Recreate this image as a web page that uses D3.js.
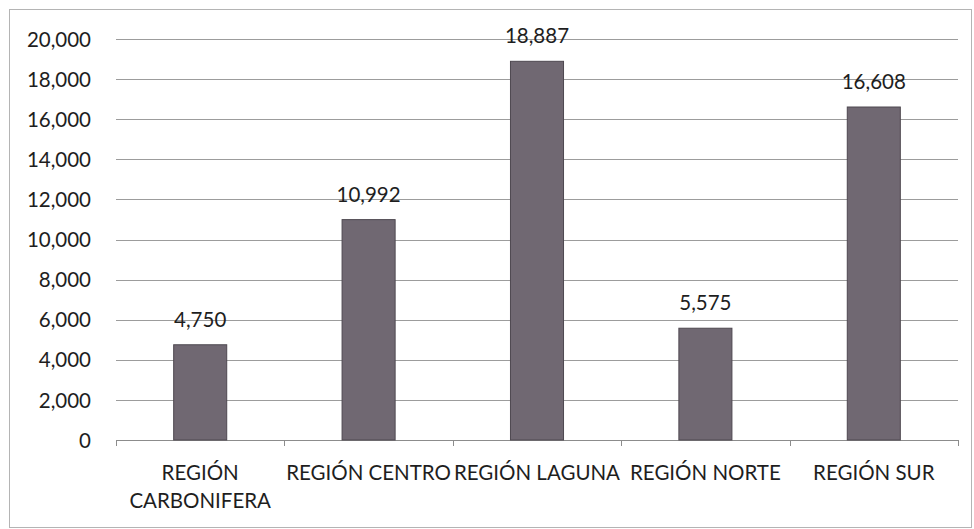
<!DOCTYPE html>
<html>
<head>
<meta charset="utf-8">
<script src="https://cdn.jsdelivr.net/npm/d3@7"></script>
<style>
  body { margin: 0; background: #fff; }
  svg text { font-family: Lato, "Open Sans", sans-serif; fill: #1e1e1e; }
</style>
</head>
<body>
<div id="chart"></div>
<script>
// ─── DATA ───────────────────────────────────────────────────────────────────
const categories = [
  ['REGIÓN', 'CARBONIFERA'],
  ['REGIÓN CENTRO'],
  ['REGIÓN LAGUNA'],
  ['REGIÓN NORTE'],
  ['REGIÓN SUR']
];
const values = [4750, 10992, 18887, 5575, 16608];
const yTicks = [0, 2000, 4000, 6000, 8000, 10000, 12000, 14000, 16000, 18000, 20000];

// ─── CANVAS ─────────────────────────────────────────────────────────────────
const W = 974, H = 529;
const margin = {top: 39, right: 16, bottom: 89, left: 116};
const width = W - margin.left - margin.right;
const height = H - margin.top - margin.bottom;
const fontSize = '20.5px';

const svg = d3.select('#chart').append('svg')
  .attr('width', W)
  .attr('height', H);

// outer frame
svg.append('rect')
  .attr('x', 9.5).attr('y', 9.5)
  .attr('width', 962).attr('height', 518)
  .attr('fill', 'none')
  .attr('stroke', '#b4b4b4')
  .attr('stroke-width', 1);

const g = svg.append('g')
  .attr('transform', `translate(${margin.left}, ${margin.top})`);

// ─── SCALES ─────────────────────────────────────────────────────────────────
const keys = categories.map(c => c.join(' '));
const x = d3.scaleBand().domain(keys).range([0, width]).padding(0);
const y = d3.scaleLinear().domain([0, 20000]).range([height, 0]);
const barW = x.bandwidth() * 0.315;

// gridlines
g.append('g')
  .selectAll('line')
  .data(yTicks.filter(t => t > 0))
  .join('line')
    .attr('x1', 0).attr('x2', width)
    .attr('y1', d => Math.round(y(d)) + 0.5)
    .attr('y2', d => Math.round(y(d)) + 0.5)
    .attr('stroke', '#9c9c9c')
    .attr('stroke-width', 1);

// y axis labels
const yAxis = g.append('g')
  .call(d3.axisLeft(y).tickValues(yTicks).tickSize(0).tickPadding(25)
    .tickFormat(d3.format(',')));
yAxis.select('.domain').remove();
yAxis.selectAll('text').style('font-size', fontSize).attr('dy', '0.35em');

// x axis
const xAxis = g.append('g')
  .attr('transform', `translate(0, ${height})`);
xAxis.append('line')
  .attr('x1', 0).attr('x2', width)
  .attr('y1', 0.5).attr('y2', 0.5)
  .attr('stroke', '#8c8c8c');
xAxis.selectAll('.tick')
  .data(d3.range(keys.length + 1))
  .join('line')
    .attr('x1', i => Math.round(i * x.step()) + 0.5)
    .attr('x2', i => Math.round(i * x.step()) + 0.5)
    .attr('y1', 0).attr('y2', 6)
    .attr('stroke', '#8c8c8c');

// category labels
xAxis.selectAll('text.cat')
  .data(categories)
  .join('text')
    .attr('class', 'cat')
    .attr('text-anchor', 'middle')
    .style('font-size', fontSize)
    .each(function(d, i) {
      const t = d3.select(this);
      d.forEach((line, j) => {
        t.append('tspan')
          .attr('x', x(keys[i]) + x.bandwidth() / 2)
          .attr('y', 40 + j * 28)
          .text(line);
      });
    });

// ─── BARS ───────────────────────────────────────────────────────────────────
g.selectAll('rect.bar')
  .data(values)
  .join('rect')
    .attr('class', 'bar')
    .attr('x', (d, i) => x(keys[i]) + (x.bandwidth() - barW) / 2)
    .attr('y', d => y(d))
    .attr('width', barW)
    .attr('height', d => height - y(d))
    .attr('fill', '#706872')
    .attr('stroke', '#4e4850')
    .attr('stroke-width', 1);

// value labels
g.selectAll('text.val')
  .data(values)
  .join('text')
    .attr('class', 'val')
    .attr('text-anchor', 'middle')
    .attr('x', (d, i) => x(keys[i]) + x.bandwidth() / 2)
    .attr('y', d => y(d) - 18)
    .style('font-size', fontSize)
    .text(d => d3.format(',')(d));
</script>
</body>
</html>
